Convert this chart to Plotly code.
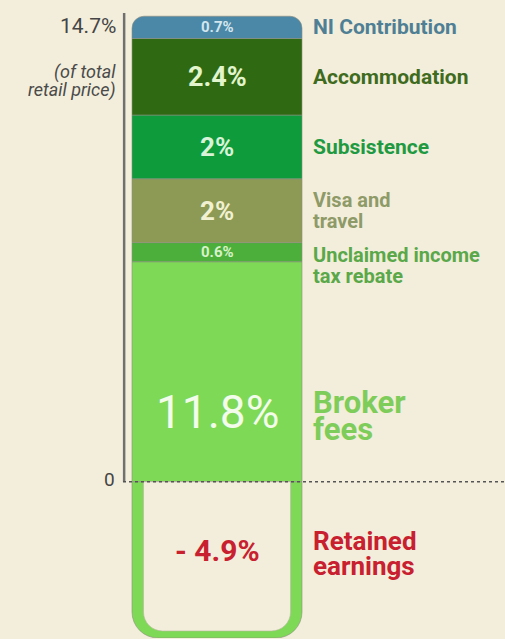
import plotly.graph_objects as go

# ---- Data (stack order: bottom to top) ----
segments = ["Broker fees", "Unclaimed income tax rebate", "Visa and travel",
            "Subsistence", "Accommodation", "NI Contribution"]
values = [11.8, 0.6, 2.0, 2.0, 2.4, 0.7]
value_labels = ["11.8%", "0.6%", "2%", "2%", "2.4%", "0.7%"]
name_lines = [["Broker", "fees"], ["Unclaimed income", "tax rebate"], ["Visa and", "travel"],
              ["Subsistence"], ["Accommodation"], ["NI Contribution"]]
retained_value = -4.9
retained_label = "- 4.9%"
retained_lines = ["Retained", "earnings"]
total_value = 14.7
total_label = "14.7%"

# ---- Styles ----
bar_colors = ["#7ed957", "#4caf3c", "#8c9a55", "#0e9b3c", "#2f6a12", "#4b87a7"]
value_colors = ["#f3fbea", "#d8f2c8", "#f1f1d2", "#d8f3d8", "#e2f5cc", "#d3e6ee"]
value_sizes = [46, 15, 26, 26, 27, 15]
name_colors = ["#7ecc5a", "#5aa84a", "#8e9a68", "#1f9a42", "#3e6b20", "#4f7f95"]
name_sizes = [31, 20, 20, 21, 21, 21]
line_gap = [27, 21, 21, 18, 18, 18]
name_shift = [0, -13, 0, 0, 0, 0]
RED = "#c8202f"
BG = "#f3eedb"
FONT = "Roboto"

broker_visible = values[0] + retained_value  # part of broker fees above zero
stack_vals = [broker_visible] + values[1:]

fig = go.Figure()
for i, v in enumerate(stack_vals):
    fig.add_trace(go.Bar(
        x=[0], y=[v], width=1, xaxis="x", yaxis="y",
        marker=dict(color=bar_colors[i], line=dict(color="#8f8f80", width=0.6)),
        hoverinfo="skip", showlegend=False,
    ))
# negative part of broker fees (green shell) and retained earnings (hollow interior)
fig.add_trace(go.Bar(x=[0], y=[retained_value], width=1, xaxis="x2", yaxis="y2",
                     marker=dict(color=bar_colors[0], line=dict(color="#8f8f80", width=0.6),
                                 cornerradius=26),
                     hoverinfo="skip", showlegend=False))
fig.add_trace(go.Bar(x=[0], y=[retained_value * 0.955], width=0.865, xaxis="x3", yaxis="y3",
                     marker=dict(color=BG, line=dict(color="#b9b6a0", width=0.6), cornerradius=19),
                     hoverinfo="skip", showlegend=False))

# ---- Annotations ----
ann = []
bottoms = []
acc = 0.0
for v in stack_vals:
    bottoms.append(acc)
    acc += v
mids = [b + v / 2 for b, v in zip(bottoms, stack_vals)]
mids[0] = broker_visible * 0.3


def text_block(x, y, lines, size, color, gap, shift, anchor="left", italic=False, bold=True,
               xref="x", xshift=0):
    n = len(lines)
    for k, ln in enumerate(lines):
        t = ln
        if bold:
            t = "<b>%s</b>" % t
        if italic:
            t = "<i>%s</i>" % t
        off = (k - (n - 1) / 2) * gap + shift
        ann.append(dict(x=x, y=y, xref=xref, text=t, showarrow=False, xanchor=anchor,
                        yanchor="middle", yshift=-off, xshift=xshift,
                        font=dict(family=FONT, size=size, color=color)))


for i in range(len(stack_vals)):
    ann.append(dict(x=0, y=mids[i], text=value_labels[i] if i == 0 else "<b>%s</b>" % value_labels[i],
                    showarrow=False, xanchor="center", yanchor="middle", yshift=4 if i == 0 else 0,
                    font=dict(family=FONT, size=value_sizes[i], color=value_colors[i])))
    text_block(0.553, mids[i], name_lines[i], name_sizes[i], name_colors[i], line_gap[i], -name_shift[i])

ann.append(dict(x=0, y=retained_value / 2, text="<b>%s</b>" % retained_label, showarrow=False,
                xanchor="center", yanchor="middle", yshift=9,
                font=dict(family=FONT, size=30, color=RED)))
text_block(0.553, retained_value / 2, retained_lines, 26, RED, 25, -6)

# axis texts (left of the axis line)
text_block(0, total_value, [total_label], 21, "#454545", 0, 13, anchor="right", bold=False,
           xref="paper", xshift=-5)
text_block(0, total_value, ["(of total", "retail price)"], 18, "#4a4a4a", 18, 68,
           anchor="right", italic=True, bold=False, xref="paper", xshift=-5)
text_block(0, 0, ["0"], 19, "#454545", 0, -2, anchor="right", bold=False, xref="paper", xshift=-6)

shapes = [
    dict(type="line", xref="paper", x0=0.003, x1=0.003, y0=0, y1=total_value,
         line=dict(color="#707070", width=2.5)),
    dict(type="line", xref="paper", x0=0, x1=1, y0=0, y1=0,
         line=dict(color="#555555", width=1.6, dash="dot")),
]

xr = [-0.553, 1.694]
yr = [retained_value, total_value]
fig.update_layout(
    width=505, height=639,
    margin=dict(l=123, r=0, t=13, b=1),
    paper_bgcolor=BG, plot_bgcolor=BG,
    barmode="relative", barcornerradius=12,
    xaxis=dict(range=xr, visible=False, fixedrange=True),
    yaxis=dict(range=yr, visible=False, fixedrange=True),
    xaxis2=dict(range=xr, visible=False, overlaying="x", fixedrange=True),
    yaxis2=dict(range=yr, visible=False, overlaying="y", fixedrange=True),
    xaxis3=dict(range=xr, visible=False, overlaying="x", fixedrange=True),
    yaxis3=dict(range=yr, visible=False, overlaying="y", fixedrange=True),
    annotations=ann, shapes=shapes,
)
fig.write_html("out.html", config={"displayModeBar": False},
               post_script="document.body.style.margin='0';")
